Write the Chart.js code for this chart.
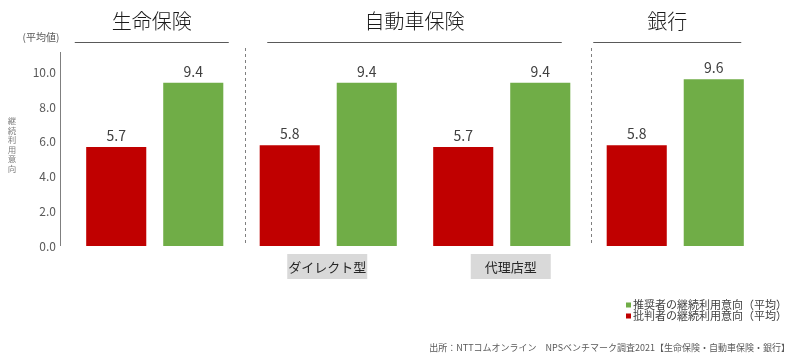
<!DOCTYPE html>
<html lang="ja">
<head>
<meta charset="utf-8">
<script src="https://cdn.jsdelivr.net/npm/chart.js@4"></script>
<style>
  body { margin: 0; background: #fff; }
  #wrap { width: 800px; height: 358px; }
</style>
</head>
<body>
<div id="wrap"><canvas id="npsChart" width="800" height="358"></canvas></div>
<script>
// ----------------------------------------------------
// DATA
// ----------------------------------------------------
const categories = ['生命保険', '自動車保険 ダイレクト型', '自動車保険 代理店型', '銀行'];
const detractorValues = [5.7, 5.8, 5.7, 5.8];   // 批判者
const promoterValues = [9.4, 9.4, 9.4, 9.6];    // 推奨者
const yTicks = [0, 2, 4, 6, 8, 10];

const groupTitles = ['生命保険', '自動車保険', '銀行'];
const subLabels = ['ダイレクト型', '代理店型'];
const legendLabels = ['推奨者の継続利用意向（平均）', '批判者の継続利用意向（平均）'];
const sourceText = '出所：NTTコムオンライン　NPSベンチマーク調査2021【生命保険・自動車保険・銀行】';
const axisTitle = ['継', '続', '利', '用', '意', '向'];

const RED = '#c00000';
const GREEN = '#70ad47';
const JP = "'Noto Sans CJK JP', 'Noto Sans', sans-serif";

// ----------------------------------------------------
// DECORATION PLUGIN
// ----------------------------------------------------
const decorPlugin = {
    id: 'decor',
    afterDraw(chart) {
        const ctx = chart.ctx;
        const x = chart.scales.x;
        const y = chart.scales.y;
        const px = v => x.getPixelForValue(v);
        const base = y.getPixelForValue(0);

        ctx.save();

        // y axis line
        ctx.strokeStyle = '#7f7f7f';
        ctx.lineWidth = 1;
        ctx.beginPath();
        ctx.moveTo(60.5, chart.chartArea.top - 3);
        ctx.lineTo(60.5, base);
        ctx.stroke();

        // unit + vertical axis title
        ctx.fillStyle = '#595959';
        ctx.font = '10px ' + JP;
        ctx.textAlign = 'center';
        ctx.textBaseline = 'middle';
        ctx.fillText('(平均値)', 41, 37);
        ctx.fillStyle = '#7f7f7f';
        ctx.font = '8.5px ' + JP;
        for (let i = 0; i < axisTitle.length; i++) {
            ctx.fillText(axisTitle[i], 12, 121 + i * 9.5);
        }

        // group titles + underlines
        const spans = [
            [px(0) - 80, px(0) + 74],
            [px(1) - 61, px(2) + 60],
            [px(3) - 82, px(3) + 66]
        ];
        ctx.fillStyle = '#1a1a1a';
        ctx.font = '300 20px ' + JP;
        groupTitles.forEach((t, i) => {
            const [a, b] = spans[i];
            ctx.fillText(t, (a + b) / 2, 21);
            ctx.strokeStyle = '#595959';
            ctx.beginPath();
            ctx.moveTo(a, 42.5);
            ctx.lineTo(b, 42.5);
            ctx.stroke();
        });

        // dashed dividers
        ctx.strokeStyle = '#7f7f7f';
        ctx.setLineDash([3, 3]);
        [px(0.52), px(2.515)].forEach(d => {
            ctx.beginPath();
            ctx.moveTo(Math.round(d) + 0.5, 48);
            ctx.lineTo(Math.round(d) + 0.5, base);
            ctx.stroke();
        });
        ctx.setLineDash([]);

        // sub-category boxes
        ctx.font = '13px ' + JP;
        [px(1) - 1, px(2) + 9].forEach((c, i) => {
            ctx.fillStyle = '#d9d9d9';
            ctx.fillRect(c - 40, 254, 80, 25);
            ctx.fillStyle = '#262626';
            ctx.fillText(subLabels[i], c, 267);
        });

        // value labels
        ctx.fillStyle = '#404040';
        ctx.font = '14px ' + JP;
        ctx.textBaseline = 'alphabetic';
        chart.data.datasets.forEach((ds, di) => {
            chart.getDatasetMeta(di).data.forEach((bar, i) => {
                ctx.fillText(ds.data[i].toFixed(1), bar.x, bar.y - 6);
            });
        });

        // legend
        ctx.textAlign = 'left';
        ctx.textBaseline = 'middle';
        ctx.font = '11px ' + JP;
        [GREEN, RED].forEach((c, i) => {
            const ly = 305 + i * 11;
            ctx.fillStyle = c;
            ctx.fillRect(626, ly - 2.5, 5, 5);
            ctx.fillStyle = '#404040';
            ctx.fillText(legendLabels[i], 633, ly);
        });

        // source
        ctx.font = '9px ' + JP;
        ctx.textAlign = 'right';
        ctx.fillStyle = '#595959';
        ctx.fillText(sourceText, 790, 348);

        ctx.restore();
    }
};

// ----------------------------------------------------
// CHART
// ----------------------------------------------------
new Chart(document.getElementById('npsChart'), {
    type: 'bar',
    data: {
        labels: categories,
        datasets: [
            { label: '批判者', data: detractorValues, backgroundColor: RED },
            { label: '推奨者', data: promoterValues, backgroundColor: GREEN }
        ]
    },
    options: {
        responsive: false,
        animation: false,
        layout: { padding: { top: 55, right: 38, bottom: 112, left: 0 } },
        datasets: { bar: { categoryPercentage: 0.888, barPercentage: 0.78 } },
        plugins: { legend: { display: false }, tooltip: { enabled: false } },
        scales: {
            x: { display: false },
            y: {
                min: 0, max: 11,
                grid: { display: false, drawTicks: false },
                border: { display: false },
                afterFit: s => { s.width = 68; },
                afterBuildTicks: s => { s.ticks = yTicks.map(v => ({ value: v })); },
                ticks: {
                    padding: 12,
                    color: '#595959',
                    font: { family: JP, size: 12 },
                    callback: v => v.toFixed(1)
                }
            }
        }
    },
    plugins: [decorPlugin]
});
</script>
</body>
</html>
